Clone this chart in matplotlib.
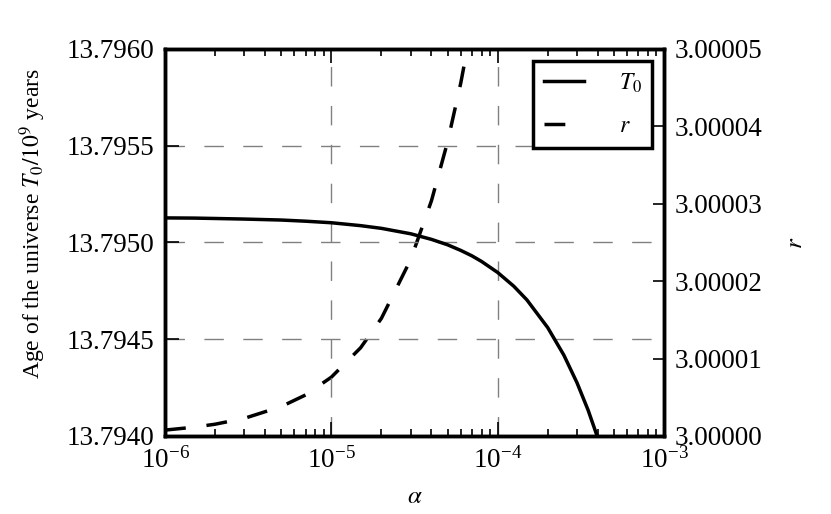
"""
Idade do universo T0 e razao r em funcao de alpha (eixo log).
"""

import matplotlib
matplotlib.use("Agg")
import matplotlib.pyplot as plt
from matplotlib.ticker import ScalarFormatter

plt.rcParams["font.family"] = "serif"
plt.rcParams["font.serif"] = ["Liberation Serif", "DejaVu Serif"]
plt.rcParams["mathtext.fontset"] = "stix"
plt.rcParams["font.size"] = 19.5

# valores
alpha = [1e-6, 1.5e-6, 2e-6, 3e-6, 5e-6, 7e-6, 1e-5, 1.5e-5, 2e-5, 3e-5,
         4e-5, 5e-5, 6e-5, 7e-5, 8e-5, 1e-4, 1.25e-4, 1.5e-4, 2e-4,
         2.5e-4, 3e-4, 3.5e-4, 4e-4]
idade_T0 = [13.795127, 13.795126, 13.795124, 13.795121, 13.795116,
            13.795110, 13.795102, 13.795087, 13.795073, 13.795045,
            13.795016, 13.794988, 13.794959, 13.794931, 13.794902,
            13.794845, 13.794774, 13.794703, 13.794560, 13.794418,
            13.794275, 13.794133, 13.793990]
razao_r = [3.00000076, 3.00000114, 3.00000152, 3.00000228, 3.0000038,
           3.0000053, 3.0000076, 3.0000114, 3.0000152, 3.0000228,
           3.0000304, 3.000038, 3.0000456, 3.0000532, 3.0000608,
           3.000076, 3.000095, 3.000114, 3.000152, 3.00019, 3.000228,
           3.000266, 3.000304]

ticks_T0 = [13.7940, 13.7945, 13.7950, 13.7955, 13.7960]
ticks_r = [3.00000, 3.00001, 3.00002, 3.00003, 3.00004, 3.00005]

fig = plt.figure(figsize=(8.31, 5.14), dpi=100)
ax = fig.add_axes([0.1986, 0.1518, 0.6004, 0.7529])
ax2 = ax.twinx()

traco = (0, (6, 6))

l1, = ax.plot(alpha, idade_T0, color="black", lw=2.5, label=r"$T_0$")
l2, = ax2.plot(alpha, razao_r, color="black", lw=2.5, linestyle=traco,
               label=r"$r$")

ax.set_xscale("log")
ax.set_xlim(1e-6, 1e-3)
ax.set_ylim(13.7940, 13.7960)
ax.set_yticks(ticks_T0)
ax2.set_ylim(3.0, 3.00005)
ax2.set_yticks(ticks_r)

for eixo in (ax, ax2):
    fmt = ScalarFormatter(useOffset=False)
    eixo.yaxis.set_major_formatter(fmt)
    for s in eixo.spines.values():
        s.set_linewidth(2.5)

ax.tick_params(which="both", direction="in", top=True, right=False,
               width=1.2, pad=8)
ax.tick_params(which="major", length=10)
ax.tick_params(which="minor", length=5)
ax2.tick_params(which="both", direction="in", width=1.2, pad=8)
ax2.tick_params(which="major", length=8)

ax.grid(True, which="major", color="gray", lw=1, linestyle=(0, (14, 14)))

ax.set_xlabel(r"$\alpha$", fontsize=18, labelpad=9)
ax.set_ylabel(r"Age of the universe $T_0/10^9$ years", fontsize=17)
ax.yaxis.set_label_coords(-0.234, 0.548)
ax2.set_ylabel(r"$r$", fontsize=18, labelpad=16)

leg = ax.legend(handles=[l1, l2], loc="upper right", fontsize=17,
                fancybox=False, framealpha=1, edgecolor="black",
                handlelength=1.72, handletextpad=1.45, labelspacing=0.9,
                borderpad=0.45, borderaxespad=0.5)
leg.get_frame().set_linewidth(2.5)
leg.set_zorder(5)
ax.set_zorder(ax2.get_zorder() + 1)
ax.patch.set_visible(False)

plt.savefig("out.png", dpi=100)
plt.close()
